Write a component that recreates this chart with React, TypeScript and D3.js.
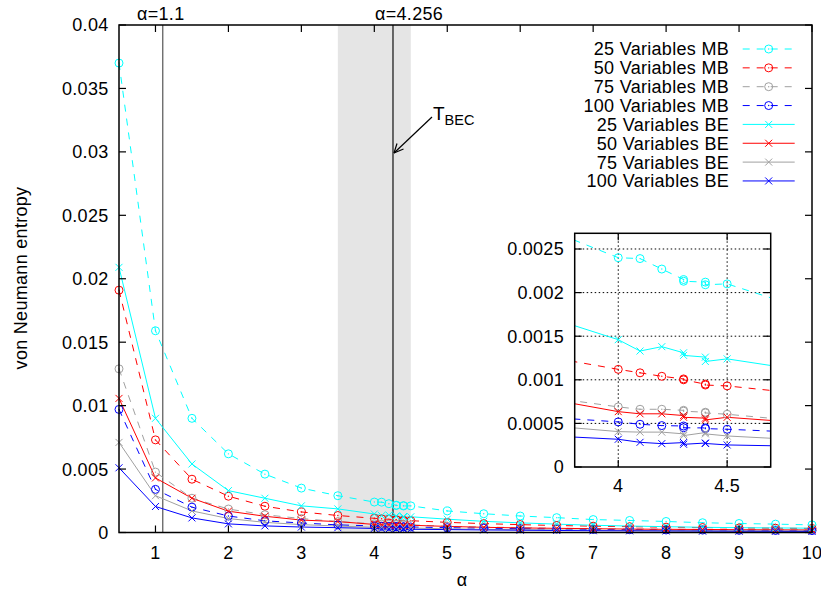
import React from "react";
import * as d3 from "d3";

// ---- data ----
const ALPHA = [0.5, 1, 1.5, 2, 2.5, 3, 3.5, 4, 4.1, 4.2, 4.3, 4.3, 4.4, 4.4, 4.5, 5, 5.5, 6, 6.5, 7, 7.5, 8, 8.5, 9, 9.5, 10];

const MB25 = [0.037, 0.0159, 0.009, 0.0062, 0.0046, 0.0035, 0.0029, 0.0024, 0.00239, 0.00227, 0.00215, 0.00213, 0.00212, 0.00209, 0.0021, 0.0017, 0.00148, 0.0013, 0.00117, 0.00102, 0.00095, 0.00087, 0.00077, 0.00071, 0.00066, 0.0006];
const MB50 = [0.0191, 0.0073, 0.0042, 0.00286, 0.00207, 0.00162, 0.00134, 0.00112, 0.00108, 0.00104, 0.00101, 0.001, 0.00095, 0.00094, 0.00093, 0.0008, 0.0007, 0.00062, 0.00055, 0.0005, 0.00046, 0.00042, 0.00039, 0.00036, 0.00034, 0.00032];
const MB75 = [0.0129, 0.00476, 0.0027, 0.00185, 0.0014, 0.0011, 0.00086, 0.000689, 0.000662, 0.000662, 0.00065, 0.00064, 0.000628, 0.00062, 0.000605, 0.00049, 0.00043, 0.00038, 0.00034, 0.0003, 0.00028, 0.00026, 0.00024, 0.00022, 0.00021, 0.0002];
const MB100 = [0.0097, 0.0034, 0.002, 0.0013, 0.00092, 0.00075, 0.0006, 0.000517, 0.00049, 0.000475, 0.00047, 0.00045, 0.000448, 0.00044, 0.000433, 0.00038, 0.00034, 0.0003, 0.00027, 0.00024, 0.00022, 0.0002, 0.00019, 0.00017, 0.00016, 0.00015];
const BE25 = [0.0209, 0.009, 0.0054, 0.0033, 0.0027, 0.0021, 0.00186, 0.00146, 0.00133, 0.00138, 0.00131, 0.00128, 0.00126, 0.00121, 0.00124, 0.00105, 0.00088, 0.00076, 0.00066, 0.00057, 0.00051, 0.00046, 0.00041, 0.00038, 0.00036, 0.00034];
const BE50 = [0.01057, 0.0043, 0.0027, 0.00168, 0.00128, 0.00098, 0.00086, 0.000635, 0.00061, 0.00061, 0.00059, 0.00057, 0.00056, 0.00054, 0.00057, 0.00048, 0.00041, 0.00036, 0.00033, 0.0003, 0.00027, 0.00025, 0.00024, 0.00022, 0.00021, 0.0002];
const BE75 = [0.0071, 0.0029, 0.0017, 0.0011, 0.0008, 0.00062, 0.00051, 0.000406, 0.0004, 0.0004, 0.00038, 0.00036, 0.000395, 0.00038, 0.000356, 0.00029, 0.00025, 0.00022, 0.0002, 0.00018, 0.00016, 0.00015, 0.00014, 0.00013, 0.00012, 0.00012];
const BE100 = [0.0051, 0.00205, 0.00115, 0.00068, 0.00052, 0.00043, 0.00038, 0.000318, 0.000283, 0.000268, 0.00028, 0.00026, 0.000275, 0.00027, 0.000253, 0.00023, 0.0002, 0.00018, 0.00016, 0.00014, 0.00013, 0.00012, 0.00011, 0.0001, 0.000095, 0.00009];

const LABELS = ["25 Variables MB", "50 Variables MB", "75 Variables MB", "100 Variables MB", "25 Variables BE", "50 Variables BE", "75 Variables BE", "100 Variables BE"];
const VALUES = [MB25, MB50, MB75, MB100, BE25, BE50, BE75, BE100];

const X_TICKS = [1, 2, 3, 4, 5, 6, 7, 8, 9, 10];
const Y_TICKS = [0, 0.005, 0.01, 0.015, 0.02, 0.025, 0.03, 0.035, 0.04];
const Y_TICK_LABELS = ["0", "0.005", "0.01", "0.015", "0.02", "0.025", "0.03", "0.035", "0.04"];
const INSET_X_TICKS = [4, 4.5];
const INSET_X_LABELS = ["4", "4.5"];
const INSET_Y_TICKS = [0, 0.0005, 0.001, 0.0015, 0.002, 0.0025];
const INSET_Y_LABELS = ["0", "0.0005", "0.001", "0.0015", "0.002", "0.0025"];

const ALPHA_MARKS = [1.1, 4.256];
const ALPHA_MARK_LABELS = ["α=1.1", "α=4.256"];
const BAND = [3.5, 4.5];

// ---- styles ----
const COLORS = ["#00ffff", "#ff0000", "#a0a0a0", "#0000ff", "#00ffff", "#ff0000", "#a0a0a0", "#0000ff"];
const FONT = "'Liberation Sans', Arial, Helvetica, sans-serif";
const FS = 18;
const LS = 0.3;
const DASH = "7,7";

function Marker({ kind, cx, cy, color }: { kind: string; cx: number; cy: number; color: string }) {
  if (kind === "circle") {
    return (
      <g>
        <circle cx={cx} cy={cy} r={4} fill="none" stroke={color} strokeWidth={1} />
        <circle cx={cx} cy={cy} r={0.7} fill={color} />
      </g>
    );
  }
  const s = 3.5;
  return (
    <path d={`M${cx - s},${cy - s}L${cx + s},${cy + s}M${cx - s},${cy + s}L${cx + s},${cy - s}`} stroke={color} strokeWidth={1} fill="none" />
  );
}

export default function App() {
  const W = 821, H = 590;
  const x = d3.scaleLinear().domain([0.5, 10]).range([119, 812]);
  const y = d3.scaleLinear().domain([0, 0.04]).range([532.5, 25]);
  const ix = d3.scaleLinear().domain([3.8, 4.7]).range([574.7, 770.7]);
  const iy = d3.scaleLinear().domain([0, 0.00268]).range([467, 233.3]);

  const [x0, x1] = x.range();
  const [yb, yt] = y.range();
  const [ix0, ix1] = ix.range();
  const [iyb, iyt] = iy.range();

  const mainLine = (vals: number[]) =>
    d3.line<number>().x((_, i) => x(ALPHA[i])).y((v) => y(v))(vals) || "";
  const insetLine = (vals: number[]) =>
    d3.line<number>().x((_, i) => ix(ALPHA[i])).y((v) => iy(v))(vals) || "";

  const tick = 7;
  const legendRowY = (i: number) => 49 + i * 18.85;
  const txt = { fontSize: FS, letterSpacing: LS, fill: "#000" } as any;

  return (
    <div style={{ position: "absolute", left: 0, top: 0 }}>
      <svg width={W} height={H} style={{ display: "block", background: "#fff" }} fontFamily={FONT}>
        <defs>
          <clipPath id="mainClip">
            <rect x={x0} y={yt} width={x1 - x0} height={yb - yt} />
          </clipPath>
          <clipPath id="insetClip">
            <rect x={ix0} y={iyt} width={ix1 - ix0} height={iyb - iyt} />
          </clipPath>
        </defs>

        {/* band */}
        <rect x={x(BAND[0])} y={yt} width={x(BAND[1]) - x(BAND[0])} height={yb - yt} fill="#e5e5e5" />

        {/* alpha marker lines */}
        {ALPHA_MARKS.map((a, i) => (
          <line key={i} x1={x(a)} x2={x(a)} y1={yt} y2={yb} stroke={i === 0 ? "#555" : "#111"} strokeWidth={1.2} />
        ))}
        <text x={137} y={20} {...txt}>{ALPHA_MARK_LABELS[0]}</text>
        <text x={375} y={20} {...txt}>{ALPHA_MARK_LABELS[1]}</text>

        {/* series lines */}
        <g clipPath="url(#mainClip)">
          {VALUES.map((vals, s) => (
            <path key={s} d={mainLine(vals)} fill="none" stroke={COLORS[s]} strokeWidth={1} strokeDasharray={s < 4 ? DASH : undefined} />
          ))}
        </g>
        {VALUES.map((vals, s) => (
          <g key={s}>
            {vals.map((v, i) => (
              <Marker key={i} kind={s < 4 ? "circle" : "x"} cx={x(ALPHA[i])} cy={y(v)} color={COLORS[s]} />
            ))}
          </g>
        ))}

        {/* main frame */}
        <rect x={x0} y={yt} width={x1 - x0} height={yb - yt} fill="none" stroke="#000" strokeWidth={1.5} />
        {X_TICKS.map((t, i) => (
          <g key={i}>
            <line x1={x(t)} x2={x(t)} y1={yb} y2={yb - tick} stroke="#000" strokeWidth={1.2} />
            <line x1={x(t)} x2={x(t)} y1={yt} y2={yt + tick} stroke="#000" strokeWidth={1.2} />
            <text x={x(t)} y={558.5} textAnchor="middle" {...txt}>{String(t)}</text>
          </g>
        ))}
        {Y_TICKS.map((t, i) => (
          <g key={i}>
            <line x1={x0} x2={x0 + tick} y1={y(t)} y2={y(t)} stroke="#000" strokeWidth={1.2} />
            <line x1={x1} x2={x1 - tick} y1={y(t)} y2={y(t)} stroke="#000" strokeWidth={1.2} />
            <text x={108.5} y={y(t)} dy="0.36em" textAnchor="end" {...txt}>{Y_TICK_LABELS[i]}</text>
          </g>
        ))}

        {/* axis titles */}
        <text x={462} y={586} textAnchor="middle" {...txt}>α</text>
        <text transform={`translate(27,278) rotate(-90)`} textAnchor="middle" {...txt}>von Neumann entropy</text>

        {/* T_BEC annotation */}
        <line x1={432} y1={117} x2={394} y2={153} stroke="#000" strokeWidth={1.2} />
        <path d="M394,153 L397,143.5 M394,153 L403.5,149" stroke="#000" strokeWidth={1.2} fill="none" />
        <text x={433} y={120} fontSize={19} fill="#000">T<tspan fontSize={14.5} dy={5}>BEC</tspan></text>

        {/* legend */}
        {LABELS.map((lab, s) => {
          const cy = legendRowY(s);
          return (
            <g key={s}>
              <text x={729} y={cy} dy="0.36em" textAnchor="end" {...txt}>{lab}</text>
              <line x1={742.7} x2={794.7} y1={cy} y2={cy} stroke={COLORS[s]} strokeWidth={1} strokeDasharray={s < 4 ? DASH : undefined} />
              <Marker kind={s < 4 ? "circle" : "x"} cx={768.7} cy={cy} color={COLORS[s]} />
            </g>
          );
        })}

        {/* inset */}
        <rect x={ix0} y={iyt} width={ix1 - ix0} height={iyb - iyt} fill="#fff" />
        {INSET_X_TICKS.map((t, i) => (
          <line key={i} x1={ix(t)} x2={ix(t)} y1={iyt} y2={iyb} stroke="#000" strokeWidth={1} strokeDasharray="1.5,2.5" />
        ))}
        {INSET_Y_TICKS.slice(1).map((t, i) => (
          <line key={i} x1={ix0} x2={ix1} y1={iy(t)} y2={iy(t)} stroke="#000" strokeWidth={1} strokeDasharray="1.5,2.5" />
        ))}
        <g clipPath="url(#insetClip)">
          {VALUES.map((vals, s) => (
            <path key={s} d={insetLine(vals)} fill="none" stroke={COLORS[s]} strokeWidth={1} strokeDasharray={s < 4 ? DASH : undefined} />
          ))}
          {VALUES.map((vals, s) => (
            <g key={s}>
              {vals.map((v, i) =>
                ALPHA[i] >= 3.8 && ALPHA[i] <= 4.7 ? (
                  <Marker key={i} kind={s < 4 ? "circle" : "x"} cx={ix(ALPHA[i])} cy={iy(v)} color={COLORS[s]} />
                ) : null
              )}
            </g>
          ))}
        </g>
        <rect x={ix0} y={iyt} width={ix1 - ix0} height={iyb - iyt} fill="none" stroke="#000" strokeWidth={1.5} />
        {INSET_X_TICKS.map((t, i) => (
          <g key={i}>
            <line x1={ix(t)} x2={ix(t)} y1={iyb} y2={iyb - tick} stroke="#000" strokeWidth={1.2} />
            <line x1={ix(t)} x2={ix(t)} y1={iyt} y2={iyt + tick} stroke="#000" strokeWidth={1.2} />
            <text x={ix(t)} y={492} textAnchor="middle" {...txt}>{INSET_X_LABELS[i]}</text>
          </g>
        ))}
        {INSET_Y_TICKS.map((t, i) => (
          <g key={i}>
            <line x1={ix0} x2={ix0 + tick} y1={iy(t)} y2={iy(t)} stroke="#000" strokeWidth={1.2} />
            <line x1={ix1} x2={ix1 - tick} y1={iy(t)} y2={iy(t)} stroke="#000" strokeWidth={1.2} />
            <text x={564} y={iy(t)} dy="0.36em" textAnchor="end" {...txt}>{INSET_Y_LABELS[i]}</text>
          </g>
        ))}
      </svg>
    </div>
  );
}
